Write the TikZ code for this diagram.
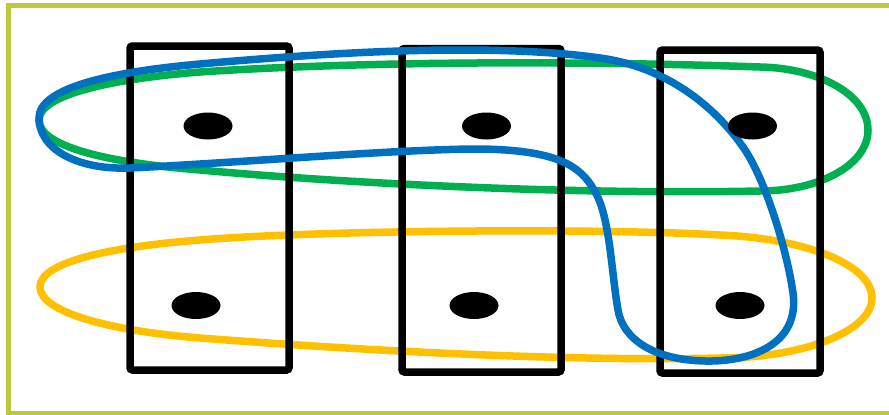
\documentclass[tikz,border=0pt]{standalone}
\usetikzlibrary{shapes.geometric}
\definecolor{frameolive}{RGB}{190,200,60}
\definecolor{setgreen}{RGB}{0,176,80}
\definecolor{setgold}{RGB}{255,192,0}
\definecolor{setblue}{RGB}{0,112,192}
\tikzset{
  framebox/.style={draw=frameolive, line width=5pt},
  partbox/.style={draw=black, line width=7.5pt, rounded corners=2.5pt, rectangle, inner sep=0pt},
  dotnode/.style={ellipse, fill=black, minimum width=49pt, minimum height=27pt, inner sep=0pt},
  setline/.style={line width=7.5pt, line join=round},
}
\begin{document}
\begin{tikzpicture}[x=1pt, y=-1pt]
\useasboundingbox (0,0) rectangle (889,415);
\begin{scope}
\clip (0,0) rectangle (889,415);
\draw[framebox] (8.5,5.5) rectangle (895,413.5);
\end{scope}

% green set
\draw[setline, setgreen] (39,120)
  .. controls (39,95) and (110,79) .. (200,72)
  .. controls (350,62) and (560,60) .. (760,67)
  .. controls (819,68) and (868,95) .. (868,130)
  .. controls (868,165) and (819,191) .. (760,191)
  .. controls (560,195) and (330,182) .. (200,170)
  .. controls (100,162) and (39,145) .. (39,120) -- cycle;

% gold set
\draw[setline, setgold] (40,287)
  .. controls (40,262) and (110,247) .. (200,240)
  .. controls (320,230) and (600,228) .. (720,235)
  .. controls (800,238) and (872,263) .. (872,298)
  .. controls (872,331) and (804,358) .. (720,358)
  .. controls (550,362) and (330,348) .. (200,338)
  .. controls (110,331) and (40,312) .. (40,287) -- cycle;

% parts
\node[partbox, minimum width=159pt, minimum height=324pt] (r1) at (209.5,208) {};
\node[partbox, minimum width=159pt, minimum height=323.5pt] (r2) at (481.5,210.25) {};
\node[partbox, minimum width=160pt, minimum height=323pt] (r3) at (740,211.5) {};

% blue set
\draw[setline, setblue] (39,118)
  .. controls (39,88) and (110,72) .. (200,64)
  .. controls (290,56) and (380,50) .. (460,50)
  .. controls (520,50) and (565,53) .. (600,58)
  .. controls (660,66) and (710,100) .. (743,147)
  .. controls (765,178) and (787,250) .. (793,293)
  .. controls (800,345) and (750,362) .. (705,361)
  .. controls (655,360) and (623,340) .. (618,310)
  .. controls (611,270) and (610,215) .. (594,190)
  .. controls (580,165) and (555,150) .. (480,149)
  .. controls (400,149) and (250,162) .. (130,168)
  .. controls (75,170) and (39,148) .. (39,118) -- cycle;

% elements
\node[dotnode] (a1) at (208,126) {};
\node[dotnode] (a2) at (486.5,126) {};
\node[dotnode] (a3) at (752.5,126) {};
\node[dotnode] (b1) at (196,305.5) {};
\node[dotnode] (b2) at (474,305.5) {};
\node[dotnode] (b3) at (740,305.5) {};
\end{tikzpicture}
\end{document}
